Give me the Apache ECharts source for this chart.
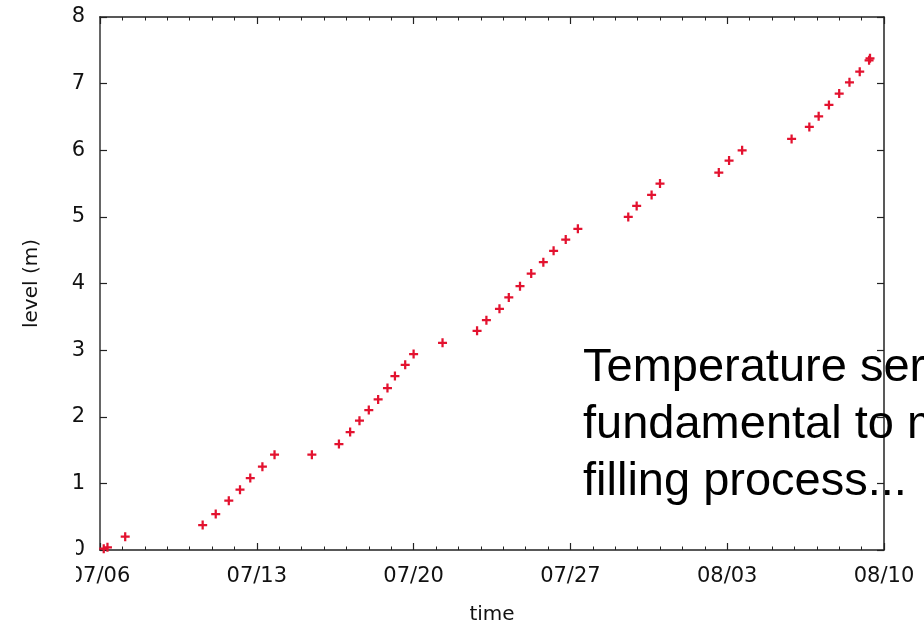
<!DOCTYPE html>
<html>
<head>
<meta charset="utf-8">
<script src="https://cdn.jsdelivr.net/npm/echarts@6/dist/echarts.min.js"></script>
<style>
html,body{margin:0;padding:0;background:#fff;}
#chart{width:924px;height:628px;}
</style>
</head>
<body>
<div id="chart"></div>
<script>
// ---- data ----
const startDate = '2015-07-06T00:00';
const endDate = '2015-08-10T00:00';
const times = [
  '2015-07-06T04:00','2015-07-06T08:00','2015-07-07T03:00','2015-07-10T14:00','2015-07-11T04:00',
  '2015-07-11T18:00','2015-07-12T06:00','2015-07-12T17:00','2015-07-13T06:00','2015-07-13T19:00',
  '2015-07-15T11:00','2015-07-16T16:00','2015-07-17T04:00','2015-07-17T14:00','2015-07-18T00:00',
  '2015-07-18T10:00','2015-07-18T20:00','2015-07-19T04:00','2015-07-19T15:00','2015-07-20T00:00',
  '2015-07-21T07:00','2015-07-22T20:00','2015-07-23T06:00','2015-07-23T20:00','2015-07-24T06:00',
  '2015-07-24T18:00','2015-07-25T06:00','2015-07-25T19:00','2015-07-26T06:00','2015-07-26T19:00',
  '2015-07-27T08:00','2015-07-29T14:00','2015-07-29T23:00','2015-07-30T15:00','2015-07-31T00:00',
  '2015-08-02T15:00','2015-08-03T02:00','2015-08-03T16:00','2015-08-05T21:00','2015-08-06T16:00',
  '2015-08-07T02:00','2015-08-07T13:00','2015-08-08T00:00','2015-08-08T11:00','2015-08-08T22:00',
  '2015-08-09T08:00','2015-08-09T09:00'
];
const levels = [
  0.02, 0.04, 0.20, 0.375, 0.54,
  0.74, 0.905, 1.08, 1.25, 1.43,
  1.43, 1.59, 1.77, 1.94, 2.10,
  2.26, 2.43, 2.61, 2.78, 2.94,
  3.11, 3.29, 3.45, 3.62, 3.79,
  3.96, 4.15, 4.32, 4.49, 4.66,
  4.82, 5.00, 5.165, 5.33, 5.50,
  5.665, 5.845, 6.00, 6.17, 6.35,
  6.51, 6.68, 6.85, 7.02, 7.18,
  7.35, 7.38
];
const xTickLabels = ['07/06','07/13','07/20','07/27','08/03','08/10'];
const yTickLabels = ['0','1','2','3','4','5','6','7','8'];
const xTitle = 'time';
const yTitle = 'level (m)';
const overlayText = ['Temperature series', 'fundamental to monitor', 'filling process...'];

// ---- build ----
const DAY = 86400000;
const t0 = Date.parse(startDate + 'Z');
const spanDays = (Date.parse(endDate + 'Z') - t0) / DAY;
const points = times.map((t, i) => [(Date.parse(t + 'Z') - t0) / DAY, levels[i]]);

const axisFont = 'DejaVu Sans';
const textCol = '#111';
const lineCol = '#222';
const plus = 'path://M3,0h2v3h3v2h-3v3h-2v-3h-3v-2h3z';

const chart = echarts.init(document.getElementById('chart'), null, {renderer: 'canvas'});
chart.setOption({
  animation: false,
  backgroundColor: '#fff',
  grid: {left: 100, right: 40, top: 17, bottom: 78, containLabel: false, outerBoundsMode: 'none'},
  xAxis: [{
    type: 'value', position: 'bottom', min: 0, max: spanDays, interval: 7,
    name: xTitle, nameLocation: 'middle', nameGap: 55,
    nameTextStyle: {fontFamily: axisFont, fontSize: 20, color: textCol},
    axisLine: {show: true, onZero: false, lineStyle: {color: lineCol, width: 1.5}},
    axisTick: {show: true, inside: true, length: 7, lineStyle: {color: lineCol, width: 1.2}},
    minorTick: {show: true, splitNumber: 7, length: 3.5, lineStyle: {color: lineCol, width: 1}},
    splitLine: {show: false},
    axisLabel: {
      margin: 16, fontFamily: axisFont, fontSize: 21, color: textCol,
      formatter: v => xTickLabels[Math.round(v / 7)] || ''
    }
  }, {
    type: 'value', position: 'top', min: 0, max: spanDays, interval: 7,
    axisLine: {show: true, onZero: false, lineStyle: {color: lineCol, width: 1.5}},
    axisTick: {show: true, inside: true, length: 7, lineStyle: {color: lineCol, width: 1.2}},
    minorTick: {show: true, splitNumber: 7, length: 3.5, lineStyle: {color: lineCol, width: 1}},
    splitLine: {show: false},
    axisLabel: {show: false}
  }],
  yAxis: [{
    type: 'value', position: 'left', min: 0, max: 8, interval: 1,
    name: yTitle, nameLocation: 'middle', nameGap: 58, nameRotate: 90,
    nameTextStyle: {fontFamily: axisFont, fontSize: 20, color: textCol},
    axisLine: {show: true, onZero: false, lineStyle: {color: '#666', width: 2}},
    axisTick: {show: true, inside: true, length: 7, lineStyle: {color: lineCol, width: 1.2}},
    splitLine: {show: false},
    axisLabel: {
      margin: 15, fontFamily: axisFont, fontSize: 21, color: textCol,
      formatter: v => yTickLabels[Math.round(v)] || ''
    }
  }, {
    type: 'value', position: 'right', min: 0, max: 8, interval: 1,
    axisLine: {show: true, onZero: false, lineStyle: {color: lineCol, width: 1.5}},
    axisTick: {show: true, inside: true, length: 7, lineStyle: {color: lineCol, width: 1.2}},
    splitLine: {show: false},
    axisLabel: {show: false}
  }],
  series: [{
    type: 'scatter',
    xAxisIndex: 0, yAxisIndex: 0,
    data: points,
    symbol: plus,
    symbolSize: 9,
    itemStyle: {color: '#e3122f', opacity: 1},
    z: 3
  }],
  graphic: [{
    type: 'rect', left: 0, top: 532, z: 100,
    shape: {width: 76, height: 62},
    style: {fill: '#fff'}
  }, {
    type: 'text', left: 583, top: 340, z: 50,
    style: {
      text: overlayText.join('\n'),
      fontFamily: 'Liberation Sans', fontSize: 47, lineHeight: 57,
      fill: '#000'
    }
  }]
});
</script>
</body>
</html>
